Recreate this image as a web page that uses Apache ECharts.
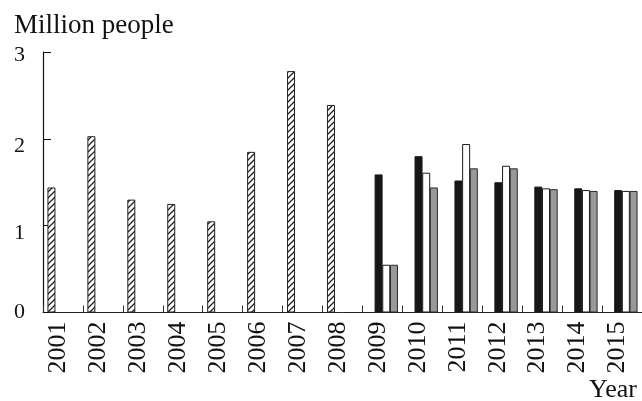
<!DOCTYPE html>
<html>
<head>
<meta charset="utf-8">
<script src="https://cdn.jsdelivr.net/npm/echarts@6/dist/echarts.min.js"></script>
<style>
  html, body { margin: 0; padding: 0; background: #fff; }
  #chart { width: 642px; height: 401px; }
</style>
</head>
<body>
<div id="chart"></div>
<script>
// Years on the category axis
const years = ['2001', '2002', '2003', '2004', '2005', '2006', '2007', '2008',
               '2009', '2010', '2011', '2012', '2013', '2014', '2015'];

// Million people, per series
const hatchedValues = [1.44, 2.03, 1.30, 1.25, 1.05, 1.85, 2.78, 2.39,
                       null, null, null, null, null, null, null];
const blackValues   = [null, null, null, null, null, null, null, null,
                       1.59, 1.80, 1.52, 1.50, 1.45, 1.43, 1.41];
const whiteValues   = [null, null, null, null, null, null, null, null,
                       0.55, 1.61, 1.94, 1.69, 1.43, 1.41, 1.40];
const grayValues    = [null, null, null, null, null, null, null, null,
                       0.55, 1.44, 1.66, 1.66, 1.42, 1.40, 1.40];

// Value axis ticks
const yTicks = [0, 1, 2, 3];

const FONT = "'Liberation Serif', 'Times New Roman', serif";

// Diagonal hatch tile for the 2001-2008 bars
function makeHatch() {
  const s = 6;
  const c = document.createElement('canvas');
  c.width = s; c.height = s;
  const g = c.getContext('2d');
  g.fillStyle = '#fff';
  g.fillRect(0, 0, s, s);
  g.strokeStyle = '#222';
  g.lineWidth = 1.3;
  g.beginPath();
  g.moveTo(-1, s + 1); g.lineTo(s + 1, -1);
  g.moveTo(-1, 1); g.lineTo(1, -1);
  g.moveTo(s - 1, s + 1); g.lineTo(s + 1, s - 1);
  g.stroke();
  return c;
}

const chart = echarts.init(document.getElementById('chart'), null, { renderer: 'canvas' });

const barCommon = {
  type: 'bar',
  barWidth: 8,
  barGap: '-4%',
  animation: false
};

chart.setOption({
  animation: false,
  backgroundColor: '#fff',
  grid: { left: 43, right: 0, top: 52, bottom: 88.5, containLabel: false },
  xAxis: {
    type: 'category',
    data: years,
    boundaryGap: true,
    axisLine: { show: true, lineStyle: { color: '#222', width: 1 } },
    axisTick: { show: true, inside: true, length: 7, lineStyle: { color: '#333', width: 1 } },
    axisLabel: {
      rotate: 90,
      interval: 0,
      margin: 9,
      color: '#111',
      fontFamily: FONT,
      fontSize: 26,
      formatter: v => '{yr|' + v + '}',
      rich: {
        yr: { fontFamily: FONT, fontSize: 26, color: '#111', padding: [0, 0, 9, 0] }
      }
    },
    splitLine: { show: false }
  },
  yAxis: {
    type: 'value',
    min: yTicks[0],
    max: yTicks[yTicks.length - 1],
    interval: 1,
    axisLine: { show: true, lineStyle: { color: '#111', width: 1.2 } },
    axisTick: { show: true, inside: true, length: 8, lineStyle: { color: '#111', width: 1 } },
    splitLine: { show: false },
    axisLabel: {
      margin: 18,
      color: '#111',
      fontFamily: FONT,
      fontSize: 22,
      formatter: v => '{y' + v + '|' + v + '}',
      rich: {
        y0: { fontFamily: FONT, fontSize: 22, color: '#111' },
        y1: { fontFamily: FONT, fontSize: 22, color: '#111', padding: [15, 0, 0, 0] },
        y2: { fontFamily: FONT, fontSize: 22, color: '#111', padding: [15, 0, 0, 0] },
        y3: { fontFamily: FONT, fontSize: 22, color: '#111', padding: [7, 0, 0, 0] }
      }
    }
  },
  graphic: [
    {
      type: 'text',
      left: 14,
      top: 12,
      style: { text: 'Million people', font: '27px ' + FONT, fill: '#111' }
    },
    {
      type: 'text',
      right: 5,
      top: 377,
      style: { text: 'Year', font: '26px ' + FONT, fill: '#111' }
    }
  ],
  series: [
    Object.assign({}, barCommon, {
      name: 'hatched',
      data: hatchedValues,
      itemStyle: {
        color: { image: makeHatch(), repeat: 'repeat' },
        borderColor: '#222',
        borderWidth: 1
      }
    }),
    Object.assign({}, barCommon, {
      name: 'black',
      data: blackValues,
      itemStyle: { color: '#161616', borderColor: '#161616', borderWidth: 1 }
    }),
    Object.assign({}, barCommon, {
      name: 'white',
      data: whiteValues,
      itemStyle: { color: '#ffffff', borderColor: '#1a1a1a', borderWidth: 1 }
    }),
    Object.assign({}, barCommon, {
      name: 'gray',
      data: grayValues,
      itemStyle: { color: '#999999', borderColor: '#2a2a2a', borderWidth: 1 }
    })
  ]
});
</script>
</body>
</html>
